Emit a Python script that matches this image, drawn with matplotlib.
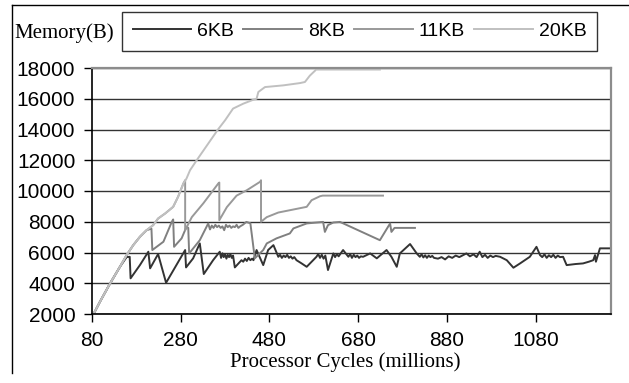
import matplotlib
matplotlib.use("Agg")
import matplotlib.pyplot as plt
from matplotlib.lines import Line2D

# series (processor cycles in millions, memory in bytes)
# rows of x and y are kept the same length
x_6kb = [80, 98, 121, 143, 158, 165, 167, 188, 207, 211, 229, 247, 290, 292, 308, 323, 332, 353,
         368, 371, 374, 377, 380, 383, 386, 389, 392, 395, 398, 402,
         417, 421, 425, 429, 433, 437, 441, 444, 451, 466, 477, 489,
         500, 504, 508, 512, 516, 520, 524, 528, 532, 536, 541, 552, 564,
         586, 590, 594, 598, 602, 606, 612, 624, 628, 632, 636, 646,
         658, 662, 666, 670, 674, 678, 682, 686, 691, 707, 722, 744, 755, 767, 774, 797, 812,
         819, 823, 827, 831, 835, 839, 843, 847, 851, 860, 868, 876, 884, 892, 900, 908, 916, 924,
         932, 940, 947, 954,
         960, 966, 972, 978, 984, 990, 1000, 1015, 1030, 1045, 1067, 1082, 1090,
         1095, 1100, 1105, 1110, 1115, 1120, 1125, 1130, 1135, 1142, 1150, 1170, 1187, 1200, 1210,
         1214, 1216, 1225, 1247]
y_6kb = [1800, 2800, 4000, 5070, 5700, 5720, 4320, 5180, 6050, 4970, 5900, 4030, 6160, 5030, 5620, 6590, 4600, 5500,
         6050, 5650, 5950, 5700, 5900, 5600, 5850, 5700, 5900, 5650, 5800, 5030,
         5500, 5400, 5600, 5450, 5650, 5500, 5600, 5500, 6160, 5180, 6160, 6480,
         5720, 5850, 5650, 5800, 5700, 5850, 5650, 5750, 5600, 5700, 5500, 5300, 5070,
         5720, 5900, 5650, 5850, 5600, 5800, 4860, 5940, 5700, 5900, 5750, 6160,
         5720, 5900, 5650, 5850, 5700, 5800, 5650, 5750, 5720, 5940, 5620, 6160, 5720, 5070, 5940, 6550, 5940,
         5720, 5880, 5680, 5820, 5650, 5800, 5700, 5780, 5650, 5600, 5700, 5550, 5750, 5650, 5800, 5700, 5820, 5940,
         5750, 5880, 5700, 6050,
         5700, 5850, 5650, 5800, 5700, 5780, 5720, 5500, 5010, 5290, 5720, 6370, 5830,
         5700, 5880, 5650, 5820, 5700, 5850, 5650, 5800, 5700, 5720, 5180, 5250, 5290, 5400, 5500,
         5830, 5400, 6270, 6270]

x_8kb = [80, 98, 121, 143, 158, 173, 188, 203, 214, 216, 241, 260, 263, 265, 282, 293, 297, 299,
         323, 342, 346, 350, 354, 358, 362, 366, 370, 374, 378, 382, 386, 390, 394, 398, 402, 406,
         410, 414, 420, 428, 437, 441, 447, 466, 474, 496, 526, 534, 564, 601, 605, 612, 624, 639,
         729, 752, 755, 762, 808]
y_8kb = [1800, 2800, 4000, 5070, 5830, 6480, 7020, 7450, 7550, 6160, 6700, 8000, 8150, 6370, 6920, 7670, 7600, 5940,
         6800, 7890, 7500, 7750, 7600, 7800, 7650, 7750, 7600, 7700, 7450, 7800, 7650, 7750, 7600, 7700, 7650, 7800,
         7600, 7700, 7800, 7990, 7900, 7000, 5620, 6160, 6590, 6920, 7240, 7565, 7890, 7990, 7340, 7780, 7950, 7990,
         6800, 7890, 7340, 7600, 7600]

x_11kb = [80, 98, 121, 143, 158, 173, 188, 203, 218, 229, 245, 263, 274, 286, 290, 290, 305, 331,
          365, 367, 367, 384, 406, 429, 459, 461, 461, 474, 500, 526, 564, 575, 594, 600, 639, 736]
y_11kb = [1800, 2800, 4000, 5070, 5830, 6480, 7020, 7450, 7780, 8210, 8540, 8970, 9620, 10490, 10700, 7450, 8300, 9200,
          10500, 10550, 8100, 8950, 9700, 10050, 10600, 10700, 8000, 8300, 8600, 8750, 8970, 9400, 9660, 9700, 9700, 9700]

x_20kb = [80, 98, 121, 143, 158, 173, 188, 203, 218, 229, 245, 263, 274, 286, 293, 301, 316, 340,
          364, 380, 398, 421, 444, 451, 455, 470, 511, 549, 560, 571, 583, 585, 729]
y_20kb = [1800, 2800, 4000, 5070, 5830, 6480, 7020, 7450, 7780, 8210, 8540, 8970, 9620, 10490, 10810, 11350, 12000, 13000,
          14000, 14600, 15360, 15680, 15940, 16000, 16440, 16760, 16870, 17020, 17090, 17500, 17830, 17900, 17900]

x_ticks = [80, 280, 480, 680, 880, 1080]
y_ticks = [2000, 4000, 6000, 8000, 10000, 12000, 14000, 16000, 18000]

W, H = 629, 383
fig = plt.figure(figsize=(W / 100, H / 100), dpi=100)
ax = fig.add_axes([92 / W, 1 - 314 / H, (611 - 92) / W, (314 - 68) / H])

ax.plot(x_6kb, y_6kb, color="#333333", lw=1.4, label="6KB")
ax.plot(x_8kb, y_8kb, color="#808080", lw=1.4, label="8KB")
ax.plot(x_11kb, y_11kb, color="#999999", lw=1.4, label="11KB")
ax.plot(x_20kb, y_20kb, color="#c0c0c0", lw=1.4, label="20KB")

ax.set_xlim(80, 1250)
ax.set_ylim(2000, 18000)
ax.set_xticks(x_ticks)
ax.set_yticks(y_ticks)
ax.yaxis.grid(True, color="#333333", lw=1)
ax.set_axisbelow(True)

sans = "Liberation Sans"
serif = "Liberation Serif"
ax.tick_params(axis="both", direction="out", length=6, width=1, colors="black",
               labelsize=15)
ax.tick_params(axis="x", pad=6)
ax.tick_params(axis="y", pad=6)
for lab in ax.get_xticklabels() + ax.get_yticklabels():
    lab.set_family(sans)

ax.spines["left"].set_color("black")
ax.spines["bottom"].set_color("black")
ax.spines["left"].set_linewidth(1.2)
ax.spines["bottom"].set_linewidth(1.2)
for s in ("top", "right"):
    ax.spines[s].set_color("#8c8c8c")
    ax.spines[s].set_linewidth(1.6)

fig.text(14 / W, 1 - 33 / H, "Memory(B)", family=serif, fontsize=15, ha="left", va="center")
fig.text(345 / W, 1 - 362 / H, "Processor Cycles (millions)", family=serif, fontsize=15,
         ha="center", va="center")

leg = fig.legend(loc="center", bbox_to_anchor=(122 / W, 1 - 52 / H, 475 / W, 42 / H),
                 mode="expand", ncol=4, fancybox=False, borderaxespad=0, borderpad=0.55,
                 handlelength=3.0, handletextpad=0.3, columnspacing=0.6,
                 prop={"family": sans, "size": 14})
leg.get_frame().set_edgecolor("black")
leg.get_frame().set_linewidth(1)

# outer chart frame (left and top edges visible)
fig.add_artist(Line2D([12 / W, 12 / W], [1 - 373 / H, 1 - 5 / H], color="black", lw=1))
fig.add_artist(Line2D([12 / W, 1], [1 - 5 / H, 1 - 5 / H], color="black", lw=1))

fig.savefig("out.png", dpi=100)
